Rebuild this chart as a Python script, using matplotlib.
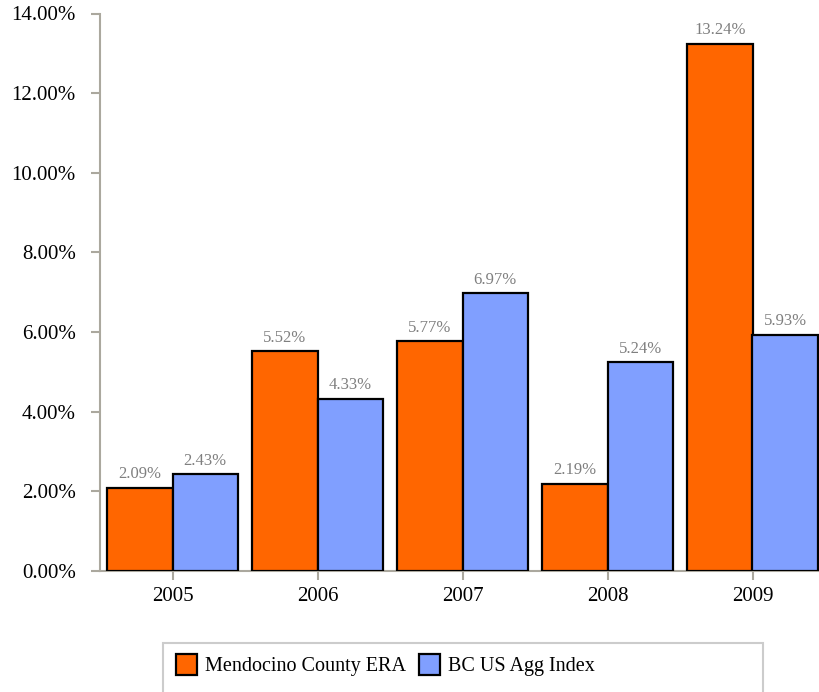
import matplotlib
matplotlib.use("Agg")
import matplotlib.pyplot as plt
from matplotlib.patches import Rectangle, Patch
import numpy as np

years = ["2005", "2006", "2007", "2008", "2009"]
mendocino = [2.09, 5.52, 5.77, 2.19, 13.24]
bc_agg = [2.43, 4.33, 6.97, 5.24, 5.93]
series_names = ["Mendocino County ERA", "BC US Agg Index"]
yticks = [0, 2, 4, 6, 8, 10, 12, 14]

plt.rcParams['font.family'] = ['Liberation Serif', 'DejaVu Serif']

W, H = 819, 692
fig = plt.figure(figsize=(W / 100, H / 100), dpi=100)
ax = fig.add_axes([100 / W, (H - 571) / H, 725 / W, (571 - 13.5) / H])

orange = '#FF6600'
blue = '#809FFF'
spine_c = '#ABA89E'
x = np.arange(len(years))
bw = 0.45
b1 = ax.bar(x - bw / 2, mendocino, bw, color=orange, edgecolor='black', linewidth=1.6, zorder=3)
b2 = ax.bar(x + bw / 2, bc_agg, bw, color=blue, edgecolor='black', linewidth=1.6, zorder=3)

for bars, vals in ((b1, mendocino), (b2, bc_agg)):
    for r, v in zip(bars, vals):
        ax.annotate(f"{v:.2f}%", (r.get_x() + r.get_width() / 2, v), xytext=(0, 4),
                    textcoords='offset points', ha='center', va='bottom',
                    fontsize=12, color='#7F7F7F')

ax.set_xlim(-0.5, 4.5)
ax.set_ylim(0, 14)
ax.set_yticks(yticks)
ax.set_yticklabels([f"{v:.2f}%" for v in yticks])
ax.set_xticks(x)
ax.set_xticklabels(years)
for s in ('top', 'right'):
    ax.spines[s].set_visible(False)
for s in ('left', 'bottom'):
    ax.spines[s].set_color(spine_c)
    ax.spines[s].set_linewidth(1.5)
ax.tick_params(axis='y', length=6.5, width=1.5, color=spine_c, pad=11, labelsize=15, labelcolor='black')
ax.tick_params(axis='x', length=6.5, width=1.5, color=spine_c, pad=5, labelsize=15, labelcolor='black')

# legend box
fig.patches.append(Rectangle((163 / W, 0 - 0.01), 600 / W, (H - 643) / H + 0.01,
                             transform=fig.transFigure, facecolor='none',
                             edgecolor='#CCCCCC', linewidth=1.5))
handles = [Patch(facecolor=orange, edgecolor='black', linewidth=1.6),
           Patch(facecolor=blue, edgecolor='black', linewidth=1.6)]
fig.legend(handles, series_names, loc='center left', bbox_to_anchor=(176 / W, 1 - 665 / H),
           frameon=False, fontsize=14.5, ncol=2, handlelength=1.05, handleheight=1.2,
           handletextpad=0.4, columnspacing=0.65, borderpad=0, borderaxespad=0)

fig.savefig('out.png', dpi=100)
